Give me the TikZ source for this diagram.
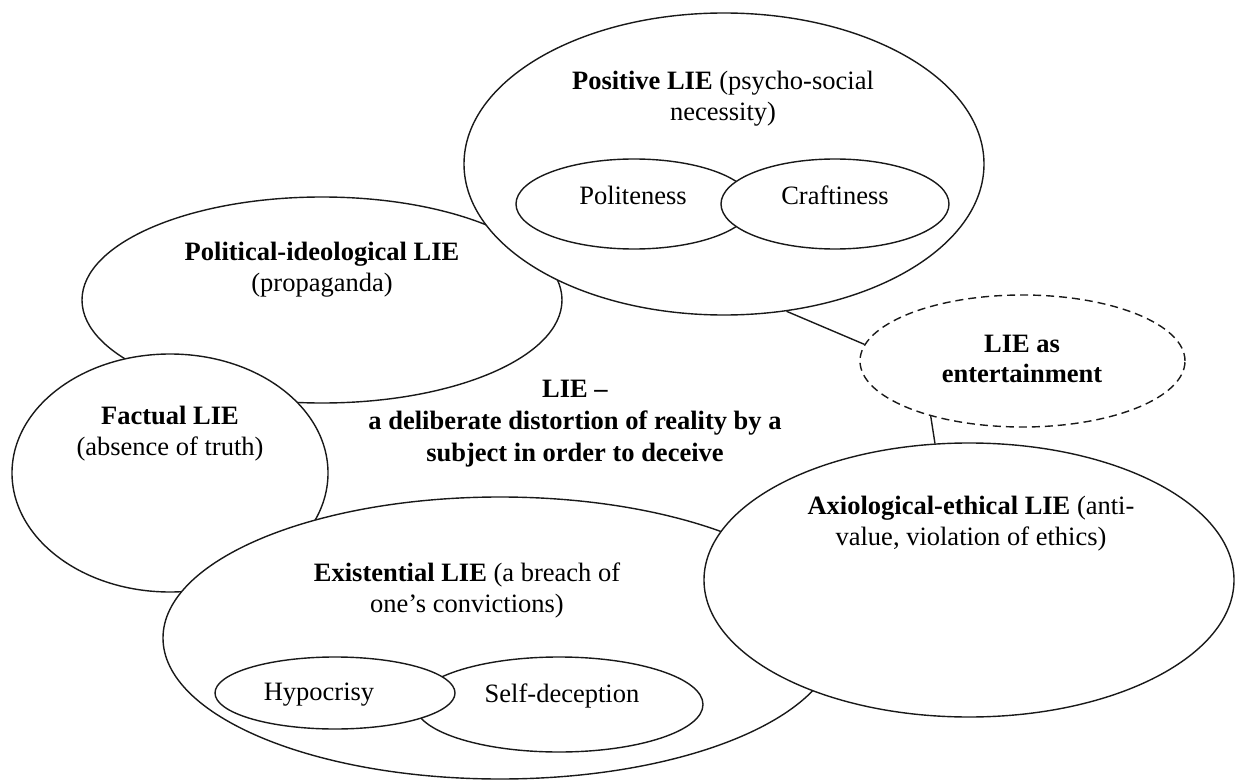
\documentclass[tikz,border=0pt]{standalone}
\usepackage{fontspec}
\setmainfont{Liberation Serif}
\usetikzlibrary{shapes.geometric}
\begin{document}
\begin{tikzpicture}[x=1pt,y=-1pt,
  blob/.style={ellipse, draw=black!90, fill=white, line width=1.4pt, inner sep=0pt},
  dashblob/.style={blob, dash pattern=on 8pt off 5pt},
  link/.style={draw=black!90, line width=1.4pt},
  txt/.style={align=center, inner sep=0pt, font=\fontsize{26.5}{31}\selectfont}]
\useasboundingbox (0,0) rectangle (1235,781);
% outer categories (drawn back to front)
\node[blob, minimum width=480pt, minimum height=206pt] (polit) at (322,300) {};
\node[blob, minimum width=316pt, minimum height=238pt] (fact) at (170,473) {};
\node[blob, minimum width=520pt, minimum height=302pt] (posit) at (724,164) {};
\node[blob, minimum width=236pt, minimum height=90pt] (polite) at (634,204) {};
\node[blob, minimum width=228pt, minimum height=90pt] (craft) at (835,204) {};
\node[blob, minimum width=674pt, minimum height=282pt] (exist) at (500,638) {};
\node[blob, minimum width=288pt, minimum height=95pt] (selfdec) at (559,704.5) {};
\node[blob, minimum width=240pt, minimum height=72pt] (hypo) at (335,693) {};
\node[blob, minimum width=530pt, minimum height=274pt] (axio) at (969,580) {};
\node[dashblob, minimum width=325pt, minimum height=132pt] (ent) at (1022.5,361) {};
% connectors
\draw[link] (posit.-67) -- (ent.174);
\draw[link] (ent.-149) -- (axio.104);
% labels
\node[txt] (tposit) at (723,99) {\textbf{Positive LIE} (psycho-social\\necessity)};
\node[txt] (tpolite) at (633,195) {Politeness};
\node[txt] (tcraft) at (835,195) {Craftiness};
\node[txt] (tpolit) at (322,270) {\textbf{Political-ideological LIE}\\(propaganda)};
\node[txt] (tfact) at (170,434) {\textbf{Factual LIE}\\(absence of truth)};
\node[txt, font=\fontsize{26.5}{32}\selectfont\bfseries] (tlie) at (575,424) {LIE --\\a deliberate distortion of reality by a\\subject in order to deceive};
\node[txt, font=\fontsize{26.5}{30}\selectfont\bfseries] (tent) at (1022,359) {LIE as\\entertainment};
\node[txt] (texist) at (467,590) {\textbf{Existential LIE} (a breach of\\one’s convictions)};
\node[txt] (thypo) at (319,695) {Hypocrisy};
\node[txt] (tselfdec) at (562,696) {Self-deception};
\node[txt] (taxio) at (971,524) {\textbf{Axiological-ethical LIE} (anti-\\value, violation of ethics)};
\end{tikzpicture}
\end{document}
